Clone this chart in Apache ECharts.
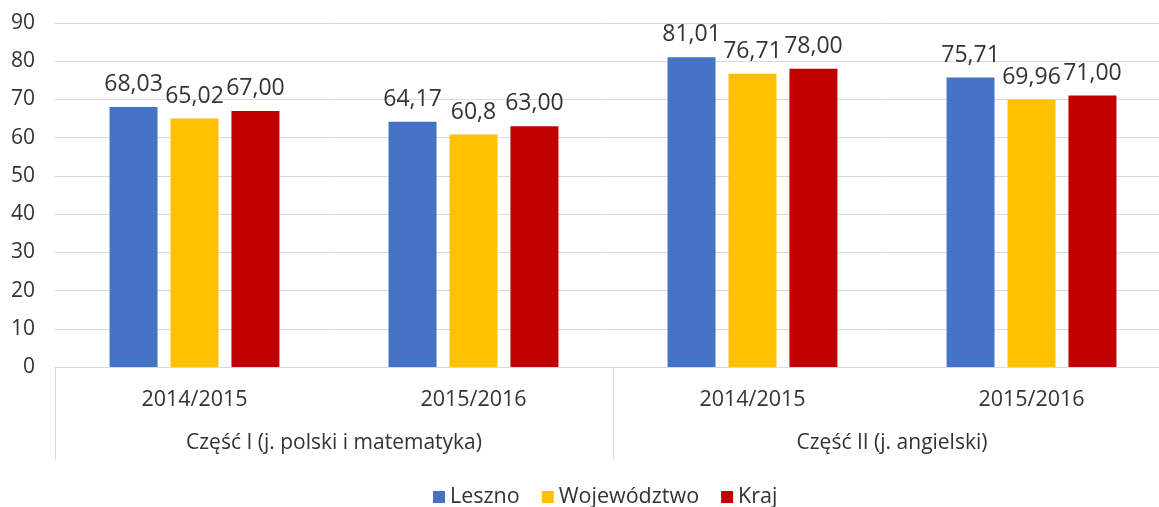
<!DOCTYPE html>
<html>
<head>
<meta charset="utf-8">
<script src="https://cdn.jsdelivr.net/npm/echarts@6/dist/echarts.min.js"></script>
<style>
  html, body { margin: 0; padding: 0; background: #ffffff; }
  #chart { width: 1159px; height: 507px; }
</style>
</head>
<body>
<div id="chart"></div>
<script>
// Years shown under each group of bars
const years = ['2014/2015', '2015/2016', '2014/2015', '2015/2016'];
// Exam parts, each spanning two years
const parts = ['Część I (j. polski i matematyka)', 'Część II (j. angielski)'];
const seriesNames = ['Leszno', 'Województwo', 'Kraj'];

// Average results as printed above the bars
const leszno = ['68,03', '64,17', '81,01', '75,71'];
const wojewodztwo = ['65,02', '60,8', '76,71', '69,96'];
const kraj = ['67,00', '63,00', '78,00', '71,00'];

const yTicks = { min: 0, max: 90, interval: 10 };
const colors = ['#4472C4', '#FFC000', '#C00000'];

const FONT = 'Open Sans';
const TEXT = '#333333';
const GRID = '#D9D9D9';

function toNumber(s) { return parseFloat(s.replace(',', '.')); }

function makeSeries(name, labels, color) {
  return {
    name: name,
    type: 'bar',
    xAxisIndex: 0,
    barWidth: '17.2%',
    barGap: '27%',
    itemStyle: { color: color },
    data: labels.map(function (s) { return { value: toNumber(s), text: s }; }),
    label: {
      show: true,
      position: 'top',
      distance: 11,
      color: TEXT,
      fontFamily: FONT,
      fontSize: 23,
      formatter: function (p) { return p.data.text; }
    }
  };
}

const chart = echarts.init(document.getElementById('chart'), null, { renderer: 'canvas' });
chart.setOption({
  animation: false,
  color: colors,
  // plot area runs slightly past the right edge of the canvas
  grid: {
    left: 55, width: 1116, top: 23, bottom: 140,
    containLabel: false, outerBoundsMode: 'none'
  },
  legend: {
    top: 481,
    left: 428,
    itemWidth: 12,
    itemHeight: 12,
    itemGap: 22,
    icon: 'rect',
    textStyle: { color: TEXT, fontFamily: FONT, fontSize: 21.5 },
    data: seriesNames
  },
  xAxis: [
    {
      type: 'category',
      data: years,
      position: 'bottom',
      axisLine: { show: true, lineStyle: { color: GRID, width: 1 } },
      axisTick: { show: false },
      axisLabel: { color: TEXT, fontFamily: FONT, fontSize: 21.5, margin: 22, interval: 0 }
    },
    {
      type: 'category',
      data: parts,
      position: 'bottom',
      offset: 0,
      axisLine: { show: false },
      axisTick: { show: true, length: 93, interval: 0, lineStyle: { color: GRID, width: 1 } },
      axisLabel: { color: TEXT, fontFamily: FONT, fontSize: 21, margin: 66, interval: 0 }
    }
  ],
  yAxis: {
    type: 'value',
    min: yTicks.min,
    max: yTicks.max,
    interval: yTicks.interval,
    axisLine: { show: false },
    axisTick: { show: false },
    splitLine: { lineStyle: { color: GRID, width: 1 } },
    axisLabel: { color: TEXT, fontFamily: FONT, fontSize: 21, margin: 20 }
  },
  series: [
    makeSeries(seriesNames[0], leszno, colors[0]),
    makeSeries(seriesNames[1], wojewodztwo, colors[1]),
    makeSeries(seriesNames[2], kraj, colors[2])
  ]
});
</script>
</body>
</html>
